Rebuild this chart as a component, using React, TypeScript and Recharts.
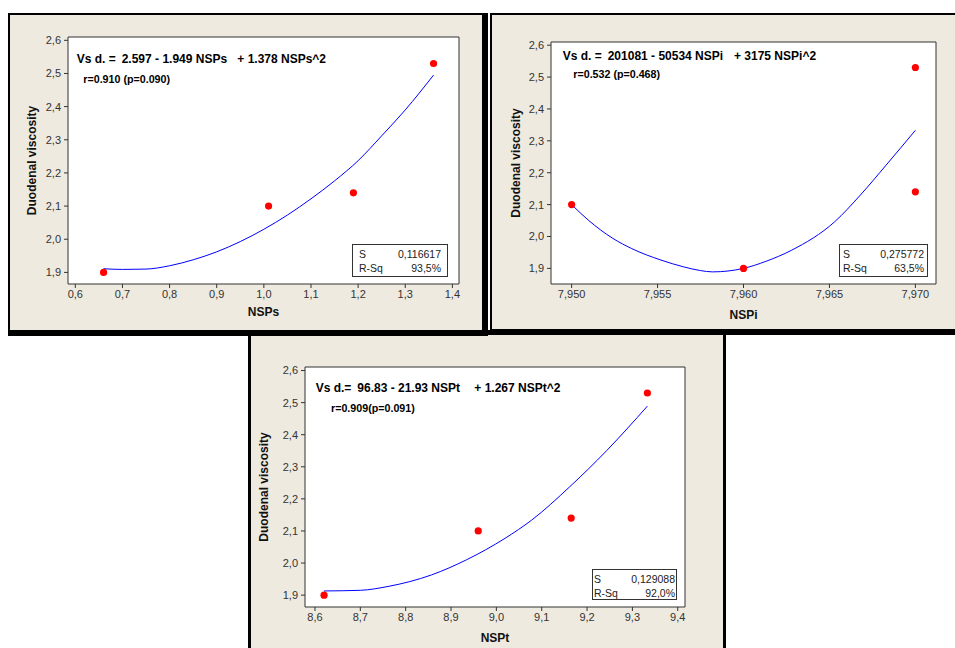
import React from 'react';
import { ComposedChart, XAxis, YAxis, Line, Scatter, ReferenceArea } from 'recharts';

// ---------- data ----------
const viscYTicks = [1.9, 2.0, 2.1, 2.2, 2.3, 2.4, 2.5, 2.6];

// NSPs panel
const nspsPointX = [0.66, 1.01, 1.19, 1.36];
const nspsPointY = [1.9, 2.1, 2.14, 2.53];
const nspsFitX = [0.66, 0.7, 0.75, 0.8, 0.85, 0.9, 0.95, 1.0, 1.05, 1.1, 1.15, 1.2, 1.25, 1.3, 1.36];
const nspsFitY = [1.911, 1.909, 1.91, 1.92, 1.938, 1.962, 1.993, 2.03, 2.073, 2.122, 2.176, 2.237, 2.312, 2.39, 2.495];
const nspsXTicks = [0.6, 0.7, 0.8, 0.9, 1.0, 1.1, 1.2, 1.3, 1.4];

// NSPi panel
const nspiPointX = [7.95, 7.96, 7.97, 7.97];
const nspiPointY = [2.1, 1.9, 2.53, 2.14];
const nspiFitX = [7.95, 7.951, 7.9524, 7.9535, 7.9552, 7.9565, 7.9575, 7.9582, 7.96, 7.9613, 7.9628, 7.9653, 7.9668, 7.9683, 7.97];
const nspiFitY = [2.1, 2.05, 1.994, 1.962, 1.926, 1.905, 1.893, 1.889, 1.9, 1.922, 1.957, 2.046, 2.13, 2.224, 2.333];
const nspiXTicks = [7.95, 7.955, 7.96, 7.965, 7.97];

// NSPt panel
const nsptPointX = [8.62, 8.96, 9.165, 9.333];
const nsptPointY = [1.9, 2.1, 2.14, 2.53];
const nsptFitX = [8.62, 8.7, 8.761, 8.857, 8.934, 9.019, 9.078, 9.162, 9.243, 9.333];
const nsptFitY = [1.913, 1.915, 1.927, 1.963, 2.01, 2.077, 2.134, 2.238, 2.35, 2.489];
const nsptXTicks = [8.6, 8.7, 8.8, 8.9, 9.0, 9.1, 9.2, 9.3, 9.4];

const zip = (xs: number[], ys: number[]) => xs.map((x, i) => ({ x, y: ys[i] }));

// ---------- style ----------
const FONT = '"Liberation Sans", Arial, sans-serif';
const BEIGE = '#EEEADF';

const fmt1 = (v: number) => v.toFixed(1).replace('.', ',');
const fmt3 = (v: number) => v.toFixed(3).replace('.', ',');

type PanelProps = {
  plotLeft: number; plotTop: number; plotW: number; plotH: number;
  xDomain: [number, number]; yDomain: [number, number];
  xTicks: number[]; xFmt: (v: number) => string;
  points: { x: number; y: number }[]; curve: { x: number; y: number }[];
  xLabel: string; yLabelDist: number; xLabelDist: number;
};

function FitPanel(p: PanelProps) {
  const W = p.plotW + 70;
  const H = p.plotH + 50;
  return (
    <div style={{ position: 'absolute', left: p.plotLeft - 60, top: p.plotTop - 10 }}>
      <ComposedChart width={W} height={H} margin={{ top: 10, right: 10, left: 0, bottom: 0 }} style={{ fontFamily: FONT }}>
        <XAxis
          type="number" dataKey="x" domain={p.xDomain} allowDataOverflow ticks={p.xTicks} interval={0}
          tickFormatter={p.xFmt} axisLine={false} tickSize={4} tickMargin={2} height={40}
          tick={{ fontSize: 11, fill: '#333' }} tickLine={{ stroke: '#333' }}
          label={{
            content: (lp: any) => {
              const vb = lp.viewBox;
              return (
                <text x={vb.x + vb.width / 2} y={vb.y + p.xLabelDist} textAnchor="middle" dominantBaseline="central"
                  fontSize={12} fontWeight="bold" fill="#111" fontFamily={FONT}>{p.xLabel}</text>
              );
            },
          }}
        />
        <YAxis
          type="number" dataKey="y" domain={p.yDomain} allowDataOverflow ticks={viscYTicks} interval={0}
          tickFormatter={fmt1} axisLine={false} tickSize={4} tickMargin={3} width={60}
          tick={{ fontSize: 11, fill: '#333' }} tickLine={{ stroke: '#333' }}
          label={{
            content: (lp: any) => {
              const vb = lp.viewBox;
              const cx = vb.x + vb.width - p.yLabelDist;
              const cy = vb.y + vb.height / 2;
              return (
                <text x={cx} y={cy} textAnchor="middle" dominantBaseline="central" transform={`rotate(-90, ${cx}, ${cy})`}
                  fontSize={12} fontWeight="bold" fill="#111" fontFamily={FONT}>Duodenal viscosity</text>
              );
            },
          }}
        />
        <ReferenceArea x1={p.xDomain[0]} x2={p.xDomain[1]} y1={p.yDomain[0]} y2={p.yDomain[1]}
          fill="#ffffff" fillOpacity={1} stroke="#333" strokeWidth={1} ifOverflow="visible" />
        <Line data={p.curve} dataKey="y" type="monotone" stroke="#0000FF" strokeWidth={1} dot={false}
          activeDot={false} isAnimationActive={false} />
        <Scatter data={p.points} dataKey="y" fill="#FF0000" isAnimationActive={false}
          shape={(sp: any) => <circle cx={sp.cx} cy={sp.cy} r={3.6} fill="#FF0000" />} />
      </ComposedChart>
    </div>
  );
}

function Txt({ x, cy, fs, bold, children }: { x: number; cy: number; fs: number; bold?: boolean; children: React.ReactNode }) {
  return (
    <div style={{
      position: 'absolute', left: x, top: cy - fs / 2, fontSize: fs, lineHeight: `${fs}px`,
      fontWeight: bold ? 'bold' : 'normal', fontFamily: FONT, whiteSpace: 'pre', color: '#000',
    }}>{children}</div>
  );
}

function StatBox({ left, top, w, h, s, r, pad }: { left: number; top: number; w: number; h: number; s: string; r: string; pad: number }) {
  const row: React.CSSProperties = { display: 'flex', justifyContent: 'space-between', height: 14, lineHeight: '14px' };
  return (
    <div style={{
      position: 'absolute', left, top, width: w, height: h, boxSizing: 'border-box', border: '1.5px solid #333',
      background: '#fff', fontFamily: FONT, fontSize: 10.5, color: '#222', padding: `2px ${pad}px 0 ${pad}px`,
    }}>
      <div style={row}><span>S</span><span>{s}</span></div>
      <div style={row}><span>R-Sq</span><span>{r}</span></div>
    </div>
  );
}

export default function App() {
  return (
    <div style={{ position: 'absolute', left: 0, top: 0, width: 955, height: 648, overflow: 'hidden', background: '#fff' }}>
      {/* frames */}
      <div style={{ position: 'absolute', left: 248, top: 330, width: 478, height: 340, boxSizing: 'border-box', background: BEIGE,
        borderTop: '5px solid #000', borderLeft: '3px solid #000', borderRight: '3px solid #000' }} />
      <div style={{ position: 'absolute', left: 8, top: 13, width: 480, height: 323, boxSizing: 'border-box', background: BEIGE,
        borderTop: '2px solid #000', borderLeft: '2px solid #000', borderRight: '6px solid #000', borderBottom: '6px solid #000' }} />
      <div style={{ position: 'absolute', left: 490, top: 13, width: 470, height: 322, boxSizing: 'border-box', background: BEIGE,
        borderTop: '2px solid #000', borderLeft: '2px solid #000', borderBottom: '6px solid #000' }} />

      {/* NSPs */}
      <FitPanel plotLeft={68} plotTop={37} plotW={391} plotH={247}
        xDomain={[0.5845, 1.414]} yDomain={[1.865, 2.61]} xTicks={nspsXTicks} xFmt={fmt1}
        points={zip(nspsPointX, nspsPointY)} curve={zip(nspsFitX, nspsFitY)}
        xLabel="NSPs" yLabelDist={36} xLabelDist={28} />
      <Txt x={76.7} cy={59.3} fs={12} bold>Vs d. =</Txt>
      <Txt x={121.7} cy={59.3} fs={12} bold>2.597 - 1.949 NSPs</Txt>
      <Txt x={237.3} cy={59.3} fs={12} bold>+ 1.378 NSPs^2</Txt>
      <Txt x={83.3} cy={79.3} fs={10.7} bold>r=0.910 (p=0.090)</Txt>
      <StatBox left={352} top={244} w={96} h={33} s="0,116617" r="93,5%" pad={6} />

      {/* NSPi */}
      <FitPanel plotLeft={551} plotTop={42} plotW={385} plotH={242}
        xDomain={[7.9488, 7.9712]} yDomain={[1.851, 2.61]} xTicks={nspiXTicks} xFmt={fmt3}
        points={zip(nspiPointX, nspiPointY)} curve={zip(nspiFitX, nspiFitY)}
        xLabel="NSPi" yLabelDist={35} xLabelDist={31} />
      <Txt x={562.7} cy={55.7} fs={12} bold>Vs d. =</Txt>
      <Txt x={607.7} cy={55.7} fs={12} bold>201081 - 50534 NSPi</Txt>
      <Txt x={734} cy={55.7} fs={12} bold>+ 3175 NSPi^2</Txt>
      <Txt x={573.3} cy={74} fs={10.7} bold>r=0.532 (p=0.468)</Txt>
      <StatBox left={839} top={244} w={89} h={33} s="0,275772" r="63,5%" pad={3} />

      {/* NSPt */}
      <FitPanel plotLeft={305} plotTop={367} plotW={380} plotH={240}
        xDomain={[8.578, 9.416]} yDomain={[1.863, 2.611]} xTicks={nsptXTicks} xFmt={fmt1}
        points={zip(nsptPointX, nsptPointY)} curve={zip(nsptFitX, nsptFitY)}
        xLabel="NSPt" yLabelDist={41} xLabelDist={31} />
      <Txt x={315.7} cy={388.3} fs={12} bold>Vs d.=</Txt>
      <Txt x={357.3} cy={388.3} fs={12} bold>96.83 - 21.93 NSPt</Txt>
      <Txt x={474.3} cy={388.3} fs={12} bold>+ 1.267 NSPt^2</Txt>
      <Txt x={331} cy={408.3} fs={10.7} bold>r=0.909(p=0.091)</Txt>
      <StatBox left={592} top={569} w={85} h={31} s="0,129088" r="92,0%" pad={1} />
    </div>
  );
}
